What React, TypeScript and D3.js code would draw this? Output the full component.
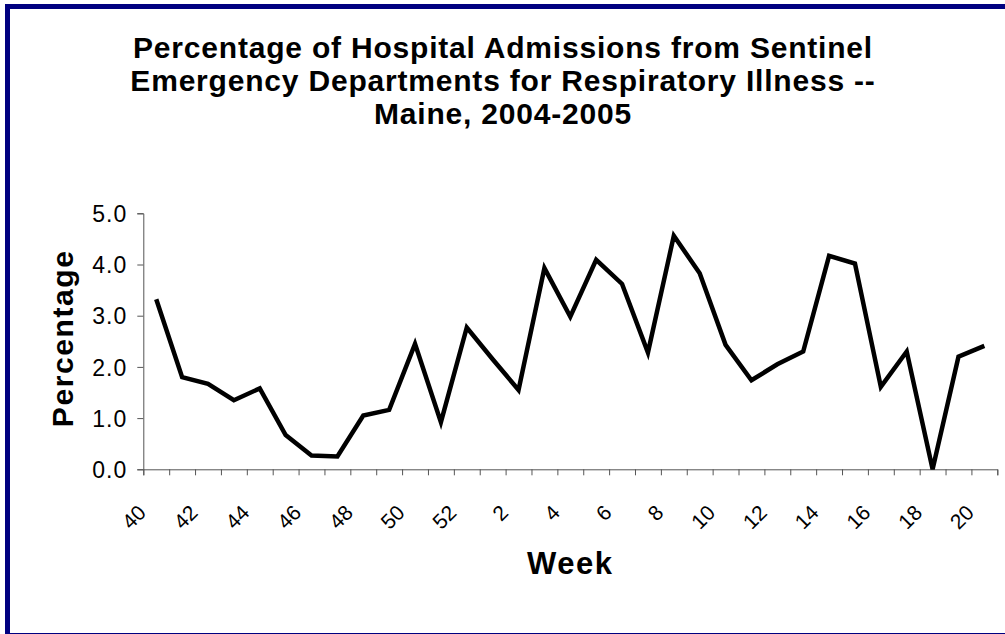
import React, { useEffect, useRef } from "react";
import * as d3 from "d3";

// weeks of the 2004-2005 season, in order
const weeks = [
  40, 41, 42, 43, 44, 45, 46, 47, 48, 49, 50, 51, 52,
  1, 2, 3, 4, 5, 6, 7, 8, 9, 10, 11, 12, 13, 14, 15, 16, 17, 18, 19, 20,
];

// percentage of admissions for respiratory illness
const percentages = [
  3.32, 1.8, 1.67, 1.35, 1.58, 0.67, 0.27, 0.25, 1.05, 1.16, 2.45, 0.92, 2.77,
  2.15, 1.55, 3.93, 2.98, 4.09, 3.62, 2.28, 4.56, 3.83, 2.43, 1.74, 2.05, 2.3,
  4.17, 4.02, 1.61, 2.3, 0.0, 2.2, 2.41,
];

const yTicks = [0, 1, 2, 3, 4, 5];

const titleLines = [
  "Percentage of Hospital Admissions from Sentinel",
  "Emergency Departments for Respiratory Illness --",
  "Maine, 2004-2005",
];

const FONT = "'Liberation Sans', Arial, sans-serif";

const App = () => {
  const ref = useRef<SVGSVGElement>(null);

  useEffect(() => {
    const width = 1005,
      height = 634;
    const margin = { top: 213.3, left: 143.3, right: 7.7, bottom: 164.7 };

    const svg = d3.select(ref.current);
    svg.selectAll("*").remove();

    // outer frame
    svg
      .append("rect")
      .attr("x", 7.5)
      .attr("y", 6.5)
      .attr("width", 1100)
      .attr("height", 629)
      .attr("fill", "#ffffff")
      .attr("stroke", "#000080")
      .attr("stroke-width", 5);

    // title
    svg
      .append("g")
      .selectAll("text")
      .data(titleLines)
      .enter()
      .append("text")
      .attr("x", 503)
      .attr("y", (d, i) => 57.5 + i * 33)
      .attr("text-anchor", "middle")
      .style("font-family", FONT)
      .style("font-weight", "bold")
      .style("font-size", "30px")
      .style("letter-spacing", "0.8px")
      .text((d) => d);

    var x = d3
      .scaleBand()
      .domain(weeks.map((w, i) => String(i)))
      .range([margin.left, width - margin.right])
      .padding(0);

    var y = d3
      .scaleLinear()
      .domain([0, 5])
      .range([height - margin.bottom, margin.top]);

    // Y axis
    const yAxis = svg
      .append("g")
      .attr("transform", "translate(" + margin.left + ",0)")
      .call(d3.axisLeft(y).tickValues(yTicks).tickSize(6).tickFormat((d) => d3.format(".1f")(d as number)));
    yAxis.select(".domain").attr("stroke", "#555");
    yAxis.selectAll(".tick line").attr("stroke", "#555");
    yAxis
      .selectAll(".tick text")
      .attr("x", -16)
      .attr("dy", "0.36em")
      .style("font-family", FONT)
      .style("font-size", "23px")
      .style("letter-spacing", "1px")
      .attr("fill", "#000");

    // X axis with a tick at every band boundary
    const xLin = d3
      .scaleLinear()
      .domain([0, weeks.length])
      .range([margin.left, width - margin.right]);
    const xAxis = svg
      .append("g")
      .attr("transform", "translate(0," + y(0) + ")")
      .call(d3.axisBottom(xLin).tickValues(d3.range(weeks.length + 1)).tickSize(6).tickFormat(() => ""));
    xAxis.select(".domain").attr("stroke", "#555");
    xAxis.selectAll(".tick line").attr("stroke", "#555");

    // rotated week labels, every other week
    svg
      .append("g")
      .selectAll("text")
      .data(weeks.filter((w, i) => i % 2 === 0))
      .enter()
      .append("text")
      .attr("transform", (d, i) => {
        const cx = (x(String(i * 2)) as number) + x.bandwidth() / 2;
        return "translate(" + (cx - 9) + ",514) rotate(-45)";
      })
      .attr("text-anchor", "end")
      .style("font-family", FONT)
      .style("font-size", "21px")
      .text((d) => d);

    // axis titles
    svg
      .append("text")
      .attr("x", (margin.left + width - margin.right) / 2)
      .attr("y", 574)
      .attr("text-anchor", "middle")
      .style("font-family", FONT)
      .style("font-weight", "bold")
      .style("font-size", "31px")
      .style("letter-spacing", "1.5px")
      .text("Week");

    svg
      .append("text")
      .attr("transform", "translate(73," + ((y(0) + y(5)) / 2 - 3) + ") rotate(-90)")
      .attr("text-anchor", "middle")
      .style("font-family", FONT)
      .style("font-weight", "bold")
      .style("font-size", "30px")
      .style("letter-spacing", "1.6px")
      .text("Percentage");

    // the line
    const line = d3
      .line<number>()
      .x((d, i) => (x(String(i)) as number) + x.bandwidth() / 2)
      .y((d) => y(d));

    svg
      .append("path")
      .datum(percentages)
      .attr("d", line)
      .attr("fill", "none")
      .attr("stroke", "#000")
      .attr("stroke-width", 4.5)
      .attr("stroke-linejoin", "miter");
  }, []);

  return (
    <div style={{ position: "fixed", left: 0, top: 0 }}>
      <svg ref={ref} width={1005} height={634} style={{ display: "block" }} />
    </div>
  );
};

export default App;
